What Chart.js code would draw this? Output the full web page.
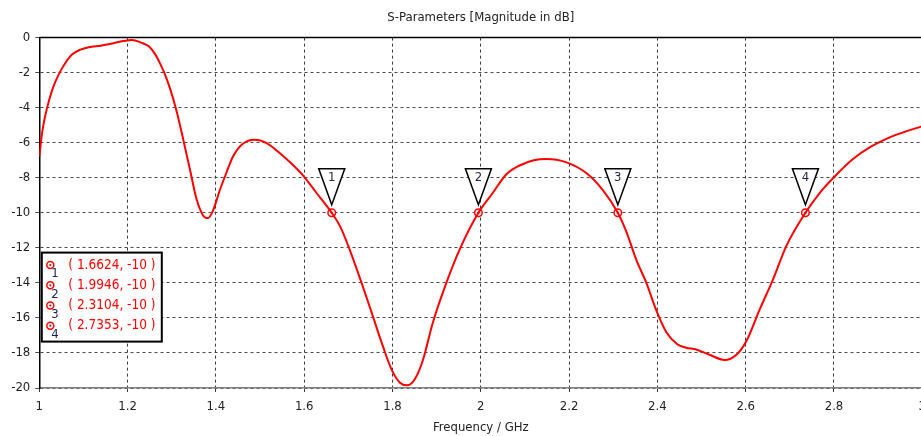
<!DOCTYPE html>
<html lang="en">
<head>
    <meta charset="UTF-8">
    <title>S-Parameters [Magnitude in dB]</title>
    <script src="https://cdn.jsdelivr.net/npm/chart.js"></script>
    <style>
        body {
            margin: 0;
            overflow: hidden;
            background: #fff;
        }
        .chart-wrapper {
            position: relative;
            width: 933px;
            height: 436px;
        }
    </style>
</head>
<body>
<div class="chart-wrapper">
    <canvas id="sChart"></canvas>
</div>

<script>
    // S11 curve (GHz, dB)
    const freq = [
        1.000, 1.006, 1.013, 1.023, 1.032, 1.044, 1.059, 1.074, 1.093, 1.112,
        1.139, 1.168, 1.190, 1.210, 1.229, 1.248, 1.263, 1.273, 1.283, 1.296,
        1.310, 1.325, 1.341, 1.356, 1.371, 1.382, 1.393, 1.409, 1.424, 1.4385,
        1.461, 1.488, 1.515, 1.545, 1.574, 1.599, 1.628, 1.6624, 1.682, 1.703,
        1.730, 1.7555, 1.778, 1.798, 1.817, 1.8325, 1.8505, 1.869, 1.891, 1.922,
        1.952, 1.9946, 2.027, 2.058, 2.088, 2.120, 2.149, 2.194, 2.239, 2.276,
        2.3104, 2.330, 2.3525, 2.375, 2.398, 2.420, 2.445, 2.465, 2.488, 2.518,
        2.552, 2.579, 2.602, 2.632, 2.662, 2.692, 2.7353, 2.7675, 2.8015, 2.841,
        2.8855, 2.9315, 3.000
    ];
    const s11 = [
        -6.8, -5.5, -4.5, -3.5, -2.8, -2.1, -1.45, -0.97, -0.69, -0.55,
        -0.46, -0.32, -0.2, -0.14, -0.27, -0.5, -0.97, -1.45, -2.0, -2.9,
        -4.1, -5.7, -7.5, -9.2, -10.15, -10.3, -9.9, -8.7, -7.7, -6.8,
        -6.06, -5.83, -6.02, -6.6, -7.26, -7.92, -8.87, -10, -10.8, -12.1,
        -14.0, -15.9, -17.6, -18.95, -19.7, -19.85, -19.5, -18.4, -16.3, -14.0,
        -12.1, -10, -8.87, -7.8, -7.3, -7.0, -6.93, -7.12, -7.73, -8.69,
        -10, -11.1, -12.7, -14.0, -15.6, -16.8, -17.5, -17.7, -17.8, -18.1,
        -18.4, -18.1, -17.3, -15.5, -13.8, -11.9, -10, -8.87, -7.93, -6.97,
        -6.2, -5.64, -5.05
    ];

    // markers
    const markerFreq = [1.6624, 1.9946, 2.3104, 2.7353];
    const markerLevel = [-10, -10, -10, -10];
    const markerNames = ['1', '2', '3', '4'];

    const FONT = '"DejaVu Sans Condensed", "DejaVu Sans", sans-serif';
    const RED = '#ff0000';

    const curvePoints = freq.map((f, i) => ({ x: f, y: s11[i] }));
    const markerPoints = markerFreq.map((f, i) => ({ x: f, y: markerLevel[i] }));

    const frameAndMarkers = {
        id: 'frameAndMarkers',
        beforeDatasetsDraw(chart) {
            const { ctx, chartArea } = chart;
            ctx.save();
            ctx.strokeStyle = '#000';
            ctx.lineWidth = 1.5;
            ctx.beginPath();
            ctx.moveTo(chartArea.left, chartArea.top);
            ctx.lineTo(chartArea.right, chartArea.top);
            ctx.stroke();
            ctx.restore();
        },
        afterDatasetsDraw(chart) {
            const { ctx } = chart;
            const meta = chart.getDatasetMeta(1);
            ctx.save();
            meta.data.forEach((pt, i) => {
                const x = pt.x, y = pt.y;
                // centre dot
                ctx.fillStyle = RED;
                ctx.beginPath();
                ctx.arc(x, y, 1.2, 0, Math.PI * 2);
                ctx.fill();
                // triangle flag
                ctx.beginPath();
                ctx.moveTo(x - 13, y - 44);
                ctx.lineTo(x + 13, y - 44);
                ctx.lineTo(x, y - 8);
                ctx.closePath();
                ctx.fillStyle = '#fff';
                ctx.fill();
                ctx.strokeStyle = '#000';
                ctx.lineWidth = 1.5;
                ctx.stroke();
                ctx.fillStyle = '#1c2448';
                ctx.font = '13px ' + FONT;
                ctx.textAlign = 'center';
                ctx.textBaseline = 'middle';
                ctx.fillText(markerNames[i], x, y - 35);
            });
            ctx.restore();
        },
        afterDraw(chart) {
            const { ctx, chartArea } = chart;
            const bx = chartArea.left + 2.5;
            const by = chartArea.top + 215;
            ctx.save();
            ctx.fillStyle = '#fff';
            ctx.fillRect(bx, by, 120, 89);
            ctx.strokeStyle = '#000';
            ctx.lineWidth = 2;
            ctx.strokeRect(bx, by, 120, 89);
            markerFreq.forEach((f, i) => {
                const ry = by + 12.5 + i * 20.2;
                ctx.strokeStyle = RED;
                ctx.lineWidth = 1.5;
                ctx.beginPath();
                ctx.arc(bx + 8.5, ry, 3.5, 0, Math.PI * 2);
                ctx.stroke();
                ctx.fillStyle = RED;
                ctx.beginPath();
                ctx.arc(bx + 8.5, ry, 1.1, 0, Math.PI * 2);
                ctx.fill();
                ctx.fillStyle = '#1c2448';
                ctx.font = '13px ' + FONT;
                ctx.textAlign = 'left';
                ctx.textBaseline = 'middle';
                ctx.fillText(markerNames[i], bx + 9.5, ry + 9);
                ctx.fillStyle = RED;
                ctx.font = '13.5px ' + FONT;
                ctx.fillText('( ' + f.toFixed(4) + ', ' + markerLevel[i] + ' )', bx + 26.5, ry);
            });
            ctx.restore();
        }
    };

    new Chart(document.getElementById('sChart'), {
        type: 'scatter',
        data: {
            datasets: [
                {
                    label: 'S1,1',
                    data: curvePoints,
                    showLine: true,
                    borderColor: RED,
                    borderWidth: 2,
                    pointRadius: 0,
                    cubicInterpolationMode: 'monotone'
                },
                {
                    label: 'Markers',
                    data: markerPoints,
                    showLine: false,
                    pointRadius: 3.8,
                    pointBackgroundColor: '#fff',
                    pointBorderColor: RED,
                    pointBorderWidth: 1.5
                }
            ]
        },
        options: {
            responsive: true,
            maintainAspectRatio: false,
            animation: false,
            layout: { padding: { top: 0, right: 0, left: 0, bottom: 0 } },
            plugins: {
                legend: { display: false },
                tooltip: { enabled: false },
                title: {
                    display: true,
                    text: 'S-Parameters [Magnitude in dB]',
                    fullSize: false,
                    color: '#222',
                    font: { family: FONT, size: 13, weight: 'normal' },
                    padding: { top: 10, bottom: 12 }
                }
            },
            scales: {
                x: {
                    type: 'linear',
                    min: 1,
                    max: 3,
                    afterFit: s => { s.height = 48; },
                    ticks: {
                        stepSize: 0.2,
                        color: '#222',
                        padding: 7,
                        maxRotation: 0,
                        font: { family: FONT, size: 13 },
                        callback: v => String(Number(v.toFixed(1)))
                    },
                    grid: { color: '#3a3a3a', lineWidth: 1, tickLength: 4 },
                    border: { color: '#808080', width: 1.5, dash: [3, 3] },
                    title: {
                        display: true,
                        text: 'Frequency / GHz',
                        color: '#222',
                        font: { family: FONT, size: 13 },
                        padding: { top: 2, bottom: 1 }
                    }
                },
                y: {
                    min: -20,
                    max: 0,
                    afterFit: s => { s.width = 39.3; },
                    ticks: {
                        stepSize: 2,
                        color: '#222',
                        padding: 5,
                        font: { family: FONT, size: 13 }
                    },
                    grid: { color: '#4a4a4a', lineWidth: 1, tickLength: 4 },
                    border: { color: '#000', width: 1.5, dash: [3, 3] }
                }
            }
        },
        plugins: [frameAndMarkers]
    });
</script>
</body>
</html>
